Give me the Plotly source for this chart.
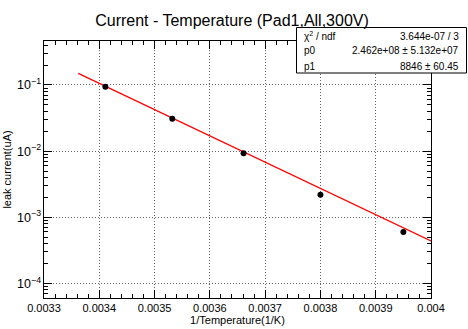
import plotly.graph_objects as go

# Measured leakage current vs inverse temperature
inv_temp = [0.003411, 0.003532, 0.003661, 0.003800, 0.003950]
current = [0.094, 0.031, 0.0093, 0.0022, 0.00060]

# Arrhenius fit line (end points)
fit_x = [0.003362, 0.004]
fit_y = [0.150, 0.00044]

# Fit statistics
stat_labels = ["χ<sup>2</sup> / ndf", "p0", "p1"]
stat_values = ["3.644e-07 / 3", "2.462e+08 ± 5.132e+07", "8846 ± 60.45"]

W, H = 468, 329
L, R, T, B = 44, 37, 41, 31
pw, ph = W - L - R, H - T - B


def px(x):
    return (x - L) / pw


def py(y):
    return (H - B - y) / ph


font = "Liberation Sans, Arial, Helvetica, sans-serif"

fig = go.Figure()
fig.add_trace(go.Scatter(x=fit_x, y=fit_y, mode="lines",
                         line=dict(color="#ff0000", width=1.3),
                         showlegend=False, hoverinfo="skip"))
fig.add_trace(go.Scatter(x=inv_temp, y=current, mode="markers",
                         marker=dict(color="black", size=6),
                         showlegend=False))

axis_common = dict(
    showline=True, linecolor="black", linewidth=1, mirror="ticks",
    ticks="inside", ticklen=8, tickcolor="black",
    showgrid=True, gridcolor="#666666", griddash="1px,2px", gridwidth=1,
    zeroline=False, automargin=False,
)

fig.update_xaxes(
    range=[0.0033, 0.004], dtick=0.0001, tick0=0.0033, tickformat=".4",
    minor=dict(ticks="inside", ticklen=4, dtick=0.00002, tickcolor="black",
               showgrid=False),
    tickfont=dict(size=11, color="black", family=font),
    title=dict(text="1/Temperature(1/K)", font=dict(size=11, family=font, color="black"),
               standoff=2),
    **axis_common,
)
fig.update_yaxes(
    type="log", range=[-4.22, -0.335], dtick=1, exponentformat="power",
    minor=dict(ticks="inside", ticklen=4, tickcolor="black", showgrid=False),
    tickfont=dict(size=10, color="black", family=font),
    title=dict(text="leak current(uA)", font=dict(size=11, family=font, color="black"),
               standoff=3),
    **axis_common,
)

# Statistics box
fig.add_shape(type="rect", xref="paper", yref="paper",
              x0=px(296.5), x1=px(466.5), y0=py(73), y1=py(27.5),
              line=dict(color="black", width=1), fillcolor="white", layer="above")
rows_y = [36, 51, 66]
for lab, val, yy in zip(stat_labels, stat_values, rows_y):
    fig.add_annotation(x=px(302), y=py(yy), xref="paper", yref="paper",
                       text=lab, showarrow=False, xanchor="left", yanchor="middle",
                       font=dict(size=10, family=font, color="black"))
    fig.add_annotation(x=px(461), y=py(yy), xref="paper", yref="paper",
                       text=val, showarrow=False, xanchor="right", yanchor="middle",
                       font=dict(size=10, family=font, color="black"))

fig.update_layout(
    width=W, height=H,
    margin=dict(l=L, r=R, t=T, b=B),
    paper_bgcolor="white", plot_bgcolor="white",
    title=dict(text="Current - Temperature (Pad1,All,300V)",
               x=232 / W, xanchor="center", y=1 - 20 / H, yanchor="middle",
               font=dict(size=16, family=font, color="black")),
    font=dict(family=font),
)

fig.write_html("out.html")
